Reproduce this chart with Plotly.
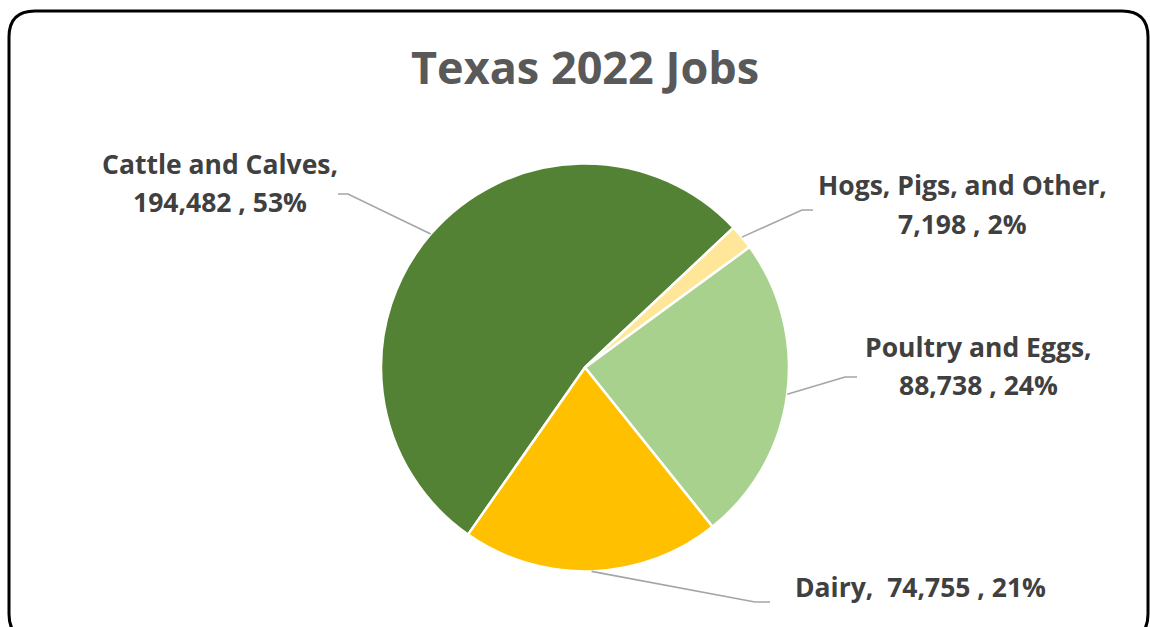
import math
import plotly.graph_objects as go

# ---- data ----
categories = ["Cattle and Calves", "Hogs, Pigs, and Other", "Poultry and Eggs", "Dairy"]
jobs = [194482, 7198, 88738, 74755]
pct_labels = ["53%", "2%", "24%", "21%"]
colors = ["#548235", "#FFE699", "#A9D18E", "#FFC000"]
title_text = "Texas 2022 Jobs"

W, H = 1150, 627
CX, CY, R = 585, 367.5, 204   # pie centre / radius in px
ROT = 215                      # first slice start angle (deg clockwise from 12 o'clock)
FONT = "Open Sans"

# label layout (px): text centre x, line y centres, elbow point, horizontal end x
label_layout = [
    dict(tx=220, ty=[164, 202], ex=348, ey=194, hx=338),
    dict(tx=962, ty=[185, 224], ex=802, ey=210, hx=813),
    dict(tx=978, ty=[347, 385], ex=845, ey=377, hx=857),
    dict(tx=920, ty=[587], ex=755, ey=602, hx=770),
]

def px(x):
    return x / W

def py(y):
    return 1 - y / H

total = sum(jobs)
fig = go.Figure()
fig.add_trace(go.Pie(
    labels=categories, values=jobs, sort=False, direction="clockwise",
    rotation=ROT, textinfo="none", hoverinfo="label+value+percent",
    marker=dict(colors=colors, line=dict(color="white", width=2.5)),
    domain=dict(x=[px(CX - R), px(CX + R)], y=[py(CY + R), py(CY - R)]),
    showlegend=False,
))

shapes = []
annotations = []
cum = 0
for cat, v, pct, lay in zip(categories, jobs, pct_labels, label_layout):
    frac = v / total
    mid = math.radians(ROT + 360 * (cum + frac / 2))
    cum += frac
    sx = CX + R * math.sin(mid)
    sy = CY - R * math.cos(mid)
    if len(lay["ty"]) == 2:
        lines = [f"{cat},", f"{v:,} , {pct}"]
    else:
        lines = [f"{cat},  {v:,} , {pct}"]
    shapes.append(dict(type="path", xref="paper", yref="paper",
                       path=f"M {px(sx)} {py(sy)} L {px(lay['ex'])} {py(lay['ey'])} L {px(lay['hx'])} {py(lay['ey'])}",
                       line=dict(color="#A5A5A5", width=1.6)))
    for line, ty in zip(lines, lay["ty"]):
        annotations.append(dict(text=line, x=px(lay["tx"]), y=py(ty), xref="paper", yref="paper",
                                showarrow=False, xanchor="center", yanchor="middle",
                                font=dict(family=FONT, size=26.5, color="#404040", weight="bold")))

# rounded frame
x0, y0, x1, y1, rr = 9, 11, 1148, 640, 26
frame = (f"M {px(x0)} {py(y0+rr)} Q {px(x0)} {py(y0)} {px(x0+rr)} {py(y0)} "
         f"L {px(x1-rr)} {py(y0)} Q {px(x1)} {py(y0)} {px(x1)} {py(y0+rr)} "
         f"L {px(x1)} {py(y1-rr)} Q {px(x1)} {py(y1)} {px(x1-rr)} {py(y1)} "
         f"L {px(x0+rr)} {py(y1)} Q {px(x0)} {py(y1)} {px(x0)} {py(y1-rr)} Z")
shapes.append(dict(type="path", xref="paper", yref="paper", path=frame,
                   line=dict(color="black", width=3), layer="above"))

annotations.append(dict(text=title_text, x=px(585), y=py(66), xref="paper", yref="paper",
                        showarrow=False, xanchor="center", yanchor="middle",
                        font=dict(family=FONT, size=45, color="#595959", weight="bold")))

fig.update_layout(width=W, height=H, margin=dict(l=0, r=0, t=0, b=0),
                  paper_bgcolor="white", plot_bgcolor="white",
                  shapes=shapes, annotations=annotations)
fig.write_html("out.html")
